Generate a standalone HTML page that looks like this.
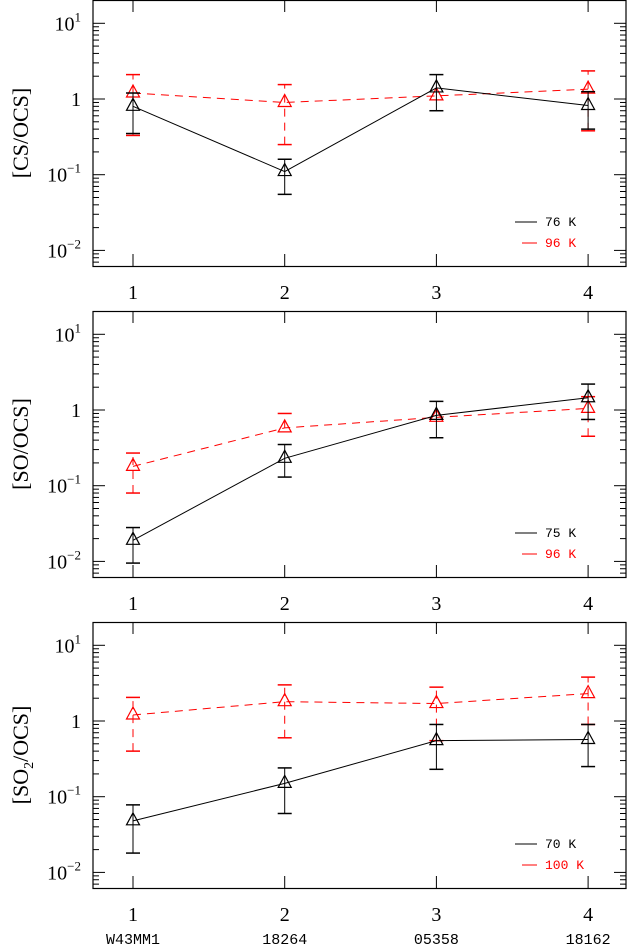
<!DOCTYPE html>
<html><head><meta charset="utf-8"><style>
body{margin:0;background:#fff;width:627px;height:947px;overflow:hidden}
svg{display:block}
.tk{font-family:"Liberation Serif",serif;font-size:20px}
.yt{font-family:"Liberation Serif",serif;font-size:22px}
.lg{font-family:"Liberation Mono",monospace;font-size:13px}
.bl{font-family:"Liberation Mono",monospace;font-size:15px}
</style></head><body>
<svg id="chart" width="627" height="947" xmlns="http://www.w3.org/2000/svg"></svg>
<script>
const categories=[1,2,3,4];
const sourceNames=["W43MM1","18264","05358","18162"];
const panelLabels=["[CS/OCS]","[SO/OCS]","[SO2/OCS]"];
const legendLow=["76 K","75 K","70 K"];
const legendHigh=["96 K","96 K","100 K"];
const csLow=[0.8,0.11,1.4,0.82];
const csLowErrLo=[0.35,0.055,0.7,0.4];
const csLowErrHi=[1.2,0.16,2.1,1.25];
const csHigh=[1.2,0.9,1.1,1.35];
const csHighErrLo=[0.33,0.25,1.1,0.38];
const csHighErrHi=[2.1,1.55,1.1,2.35];
const soLow=[0.019,0.23,0.85,1.45];
const soLowErrLo=[0.0095,0.13,0.43,0.75];
const soLowErrHi=[0.028,0.35,1.3,2.2];
const soHigh=[0.18,0.58,0.8,1.05];
const soHighErrLo=[0.08,0.58,0.8,0.45];
const soHighErrHi=[0.27,0.9,0.8,1.5];
const so2Low=[0.048,0.15,0.55,0.57];
const so2LowErrLo=[0.018,0.06,0.23,0.25];
const so2LowErrHi=[0.078,0.24,0.9,0.9];
const so2High=[1.2,1.8,1.7,2.3];
const so2HighErrLo=[0.4,0.6,0.55,0.9];
const so2HighErrHi=[2.05,3.0,2.8,3.8];
const yTicks=[1e-2,1e-1,1,10];

const NS="http://www.w3.org/2000/svg";
const svg=document.getElementById('chart');
function mk(tag,attrs,parent){const e=document.createElementNS(NS,tag);for(const k in attrs)e.setAttribute(k,attrs[k]);(parent||svg).appendChild(e);return e;}
const L=93,R=626,H=266,DEC=75.7;
function xS(c){return 133+(c-1)*151.7;}
function yS(v,off){return off+99-Math.log10(v)*DEC;}
const panels=[
 {off:0,low:[csLow,csLowErrLo,csLowErrHi],high:[csHigh,csHighErrLo,csHighErrHi]},
 {off:311,low:[soLow,soLowErrLo,soLowErrHi],high:[soHigh,soHighErrLo,soHighErrHi]},
 {off:622,low:[so2Low,so2LowErrLo,so2LowErrHi],high:[so2High,so2HighErrLo,so2HighErrHi]}];
panels.forEach((p,i)=>{
 const g=mk('g',{});
 
 
 const o=p.off;
 mk('rect',{x:L,y:o+0.5,width:R-L,height:H,fill:'none',stroke:'#000','stroke-width':1.2},g);
 for(let d=-3;d<=1;d++){for(let m=1;m<10;m++){const v=m*Math.pow(10,d);const y=yS(v,o);if(y<o||y>o+H)continue;const len=m==1?12:6;
  mk('line',{x1:L,x2:L+len,y1:y,y2:y,stroke:'#000'},g);mk('line',{x1:R-len,x2:R,y1:y,y2:y,stroke:'#000'},g);}}
 yTicks.forEach(v=>{const y=yS(v,o);
  const t=mk('text',{x:L-12,y:y+7,'text-anchor':'end',class:'tk'},g);
  
  
  if(v==1)t.textContent='1';else{t.textContent='10';const s=mk('tspan',{dy:-9,'font-size':13},t);s.textContent=String(Math.round(Math.log10(v))).replace('-','−');}
 });
 categories.forEach(c=>{const x=xS(c);
  mk('line',{x1:x,x2:x,y1:o,y2:o+12,stroke:'#000'},g);mk('line',{x1:x,x2:x,y1:o+H-12,y2:o+H,stroke:'#000'},g);
  const t=mk('text',{x:x,y:o+H+33,'text-anchor':'middle',class:'tk'},g);t.textContent=c;
  
  
 });
 const yl=mk('text',{transform:`translate(28,${o+133}) rotate(-90)`,'text-anchor':'middle',class:'yt'},g);
 
 
 if(i==2){yl.textContent='[SO';const s=mk('tspan',{dy:5,'font-size':14},yl);s.textContent='2';const s2=mk('tspan',{dy:-5},yl);s2.textContent='/OCS]';}
 else yl.textContent=panelLabels[i];
 [[p.high,'#f00','8,6'],[p.low,'#000',null]].forEach(([s,col,dash],si)=>{
  const [vals,lo,hi]=s;
  const pts=vals.map((v,k)=>xS(categories[k])+','+yS(v,o)).join(' ');
  const pl=mk('polyline',{points:pts,fill:'none',stroke:col,'stroke-width':1});
  if(dash)pl.setAttribute('stroke-dasharray',dash);
  
  
  vals.forEach((v,k)=>{const x=xS(categories[k]);const y0=yS(lo[k],o),y1=yS(hi[k],o),y=yS(v,o);
   const e=mk('line',{x1:x,x2:x,y1:y0,y2:y1,stroke:col});if(dash)e.setAttribute('stroke-dasharray','8,6');
   
   
   if(lo[k]!=v){mk('line',{x1:x-7,x2:x+7,y1:y0,y2:y0,stroke:col,'stroke-width':1.5});}
   if(hi[k]!=v){mk('line',{x1:x-7,x2:x+7,y1:y1,y2:y1,stroke:col,'stroke-width':1.5});}
   const tr=mk('polygon',{points:`${x},${y-8} ${x-6.5},${y+4} ${x+6.5},${y+4}`,fill:'none',stroke:col,'stroke-width':1.2});
   
   
  });
 });
 const lg=mk('g',{},g);
 
 
 mk('line',{x1:515,x2:537,y1:o+222,y2:o+222,stroke:'#000'},lg);
 const t1=mk('text',{x:545,y:o+226,class:'lg',fill:'#000'},lg);t1.textContent=legendLow[i];
 mk('line',{x1:522,x2:537,y1:o+243,y2:o+243,stroke:'#f00'},lg);
 const t2=mk('text',{x:545,y:o+247,class:'lg',fill:'#f00'},lg);t2.textContent=legendHigh[i];
});
sourceNames.forEach((n,k)=>{const t=mk('text',{x:xS(categories[k]),y:944,'text-anchor':'middle',class:'bl'});t.textContent=n;
 
 });
</script>
</body></html>
